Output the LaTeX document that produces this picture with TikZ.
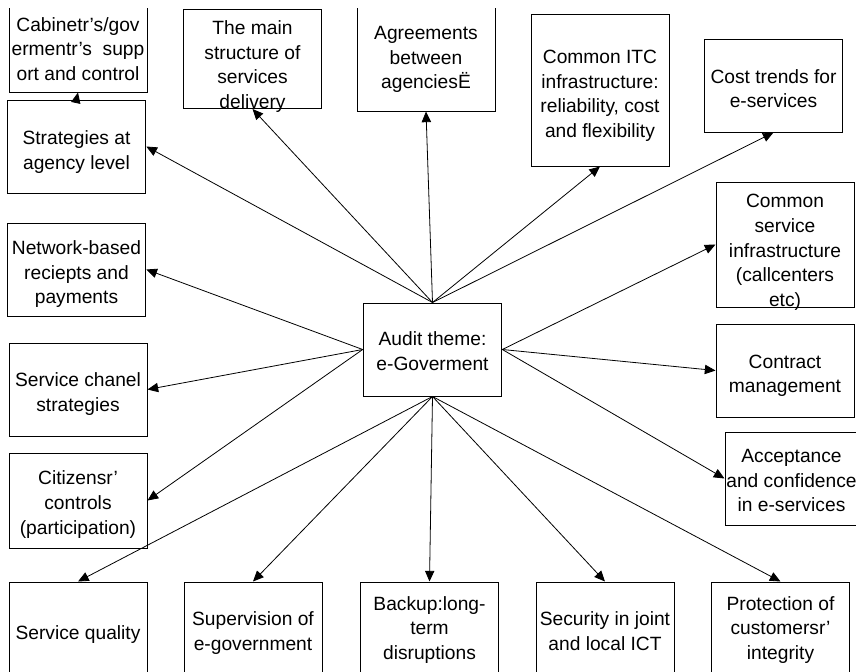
\documentclass[tikz,border=0pt]{standalone}
\usepackage{fontspec}
\setmainfont{Liberation Sans}
\usetikzlibrary{arrows.meta}

\tikzset{every picture/.style={line width=0.75pt}}
\tikzset{
  box/.style={draw, rectangle, inner sep=0pt, align=center, minimum width=104pt, minimum height=69.75pt, font=\fontsize{14.4}{18.4}\selectfont},
  lower/.style={text depth=0pt, text height=#1},
  arr/.style={line width=0.6pt, -{Triangle[length=8pt,width=7pt]}}
}

\begin{document}
\begin{tikzpicture}[x=0.75pt,y=0.75pt,yscale=-1,xscale=1]
\useasboundingbox (0,0) rectangle (856,671);
\clip (0,8.5) rectangle (856,671);

%Centre box
\node [box, lower=31.15pt] (hub) at (432.5,349.5) {Audit theme:\\e-Goverment};

%Top row
\node [box, minimum width=103.5pt, minimum height=64.5pt] (cab) at (78,49) {Cabinetr’s/gov\\ermentr’s~ supp\\ort and control};
\node [box, lower=34.15pt] (strat) at (76.5,146.5) {Strategies at\\agency level};
\node [box, minimum height=74.25pt, lower=73.9pt] (mainstr) at (252.5,59) {The main\\structure of\\services\\delivery};
\node [box, minimum width=103.5pt, minimum height=82.5pt, lower=48.8pt] (agree) at (426,56) {Agreements\\between\\agenciesË};
\node [box, minimum width=103.5pt, minimum height=114pt, lower=70.95pt] (itc) at (600,90) {Common ITC\\infrastructure:\\reliability, cost\\and flexibility};
\node [box, lower=33.4pt] (cost) at (773.5,85.5) {Cost trends for\\e-services};

%Right column
\node [box, minimum width=103.5pt, minimum height=93.75pt, lower=92.35pt] (comsvc) at (785,244.5) {Common\\service\\infrastructure\\(callcenters\\etc)};
\node [box, minimum width=103.5pt, lower=33.4pt] (contract) at (785,370.5) {Contract\\management};
\node [box, minimum width=99.75pt, lower=49.55pt] (accept) at (791.5,478.5) {Acceptance\\and confidence\\in e-services};

%Left column
\node [box, lower=51.05pt] (net) at (76.5,269.5) {Network-based\\reciepts and\\payments};
\node [box, minimum width=103.5pt, lower=32.65pt] (chanel) at (78,389.5) {Service chanel\\strategies};
\node [box, minimum width=103.5pt, minimum height=71.25pt, lower=50.3pt] (citiz) at (78,500.5) {Citizensr’\\controls\\(participation)};

%Bottom row
\node [box, minimum width=103.5pt, minimum height=72pt, lower=13.5pt] (squal) at (78,630) {Service quality};
\node [box, minimum width=103.5pt, minimum height=72pt, lower=30.4pt] (superv) at (253,630) {Supervision of\\e-government};
\node [box, minimum width=103.5pt, minimum height=72pt] (backup) at (429.5,630) {Backup:long-\\term\\disruptions};
\node [box, minimum width=103.5pt, minimum height=72pt, lower=30.4pt] (secur) at (605,630) {Security in joint\\and local ICT};
\node [box, minimum width=103.5pt, minimum height=72pt] (protect) at (780.5,630) {Protection of\\customersr’\\integrity};

%Arrows up
\draw [arr] (hub.north) -- (strat.east);
\draw [arr] (hub.north) -- (mainstr.south);
\draw [arr] (hub.north) -- (agree.south);
\draw [arr] (hub.north) -- (itc.south);
\draw [arr] (hub.north) -- (cost.south);
\draw [arr] (strat.north) -- (cab.south);
%Arrows to the sides
\draw [arr] (hub.west) -- (net.east);
\draw [arr] (hub.west) -- (chanel.east);
\draw [arr] (hub.west) -- (citiz.east);
\draw [arr] (hub.east) -- (comsvc.west);
\draw [arr] (hub.east) -- (contract.west);
\draw [arr] (hub.east) -- (accept.west);
%Arrows down
\draw [arr] (hub.south) -- (squal.north);
\draw [arr] (hub.south) -- (superv.north);
\draw [arr] (hub.south) -- (backup.north);
\draw [arr] (hub.south) -- (secur.north);
\draw [arr] (hub.south) -- (protect.north);

\end{tikzpicture}
\end{document}
